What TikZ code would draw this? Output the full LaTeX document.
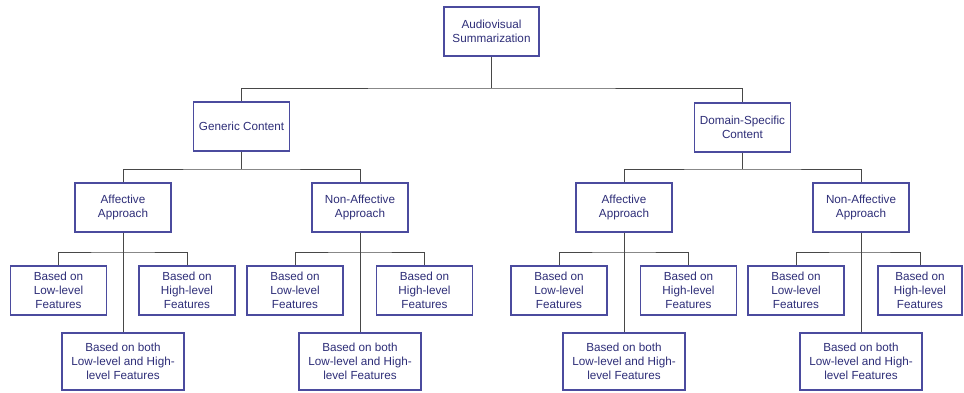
\documentclass[tikz,border=0pt]{standalone}
\usepackage{fontspec}
\setmainfont{Liberation Sans}
\usepackage{tikz}
\usetikzlibrary{calc,positioning}
\definecolor{boxc}{HTML}{4B4B9E}
\definecolor{txtc}{HTML}{2E2E78}
\definecolor{linec}{HTML}{484848}
\tikzset{
	box/.style={draw=boxc, line width=1.1pt, fill=white, text=txtc, align=center,
		minimum width=96, minimum height=49, inner sep=0pt,
		font=\fontsize{11.7}{14.3}\selectfont},
	widebox/.style={box, minimum width=122, minimum height=57},
	link/.style={draw=linec, line width=1pt}
}
\begin{document}
\begin{tikzpicture}[x=1pt,y=-1pt]
		\useasboundingbox (0,0) rectangle (964,392);
		\node[box, minimum width=95] (0) at (491.5,31.5) {Audiovisual\\Summarization};
		\node[box] (1) at (241.5,126.5) {Generic Content};
		\node[box] (2) at (742.5,127.5) {Domain-Specific\\Content};
		\node[box] (11) at (123,207.5) {Affective\\Approach};
		\node[box] (12) at (360,207.5) {Non-Affective\\Approach};
		\node[box] (21) at (624,207.5) {Affective\\Approach};
		\node[box] (22) at (861,207.5) {Non-Affective\\Approach};
		\node[box] (111) at (58.5,290.5) {Based on\\Low-level\\Features};
		\node[box] (112) at (187,290.5) {Based on\\High-level\\Features};
		\node[widebox] (113) at (123,361.5) {Based on both\\Low-level and High-\\level Features};
		\node[box] (121) at (295,290.5) {Based on\\Low-level\\Features};
		\node[box] (122) at (424.5,290.5) {Based on\\High-level\\Features};
		\node[widebox] (123) at (360,361.5) {Based on both\\Low-level and High-\\level Features};
		\node[box] (211) at (559,290.5) {Based on\\Low-level\\Features};
		\node[box] (212) at (688.5,290.5) {Based on\\High-level\\Features};
		\node[widebox] (213) at (624,361.5) {Based on both\\Low-level and High-\\level Features};
		\node[box] (221) at (796,290.5) {Based on\\Low-level\\Features};
		\node[box, minimum width=84] (222) at (920,290.5) {Based on\\High-level\\Features};
		\node[widebox] (223) at (861,361.5) {Based on both\\Low-level and High-\\level Features};
		% junctions
		\coordinate (j0) at (491.5,88);
		\coordinate (j1) at (241.5,169);
		\coordinate (j2) at (742.5,169);
		\coordinate (j11) at (123,252);
		\coordinate (j12) at (360,252);
		\coordinate (j21) at (624,252);
		\coordinate (j22) at (861,252);
		\draw[link] (0.south) -- (j0);
		\draw[link] (1.north) |- (j0) -| (2.north);
		\draw[link] (1.south) -- (j1);
		\draw[link] (11.north) |- (j1) -| (12.north);
		\draw[link] (2.south) -- (j2);
		\draw[link] (21.north) |- (j2) -| (22.north);
		\draw[link] (11.south) -- (113.north);
		\draw[link] (111.north) |- (j11) -| (112.north);
		\draw[link] (12.south) -- (123.north);
		\draw[link] (121.north) |- (j12) -| (122.north);
		\draw[link] (21.south) -- (213.north);
		\draw[link] (211.north) |- (j21) -| (212.north);
		\draw[link] (22.south) -- (223.north);
		\draw[link] (221.north) |- (j22) -| (222.north);
	\end{tikzpicture}
\end{document}
